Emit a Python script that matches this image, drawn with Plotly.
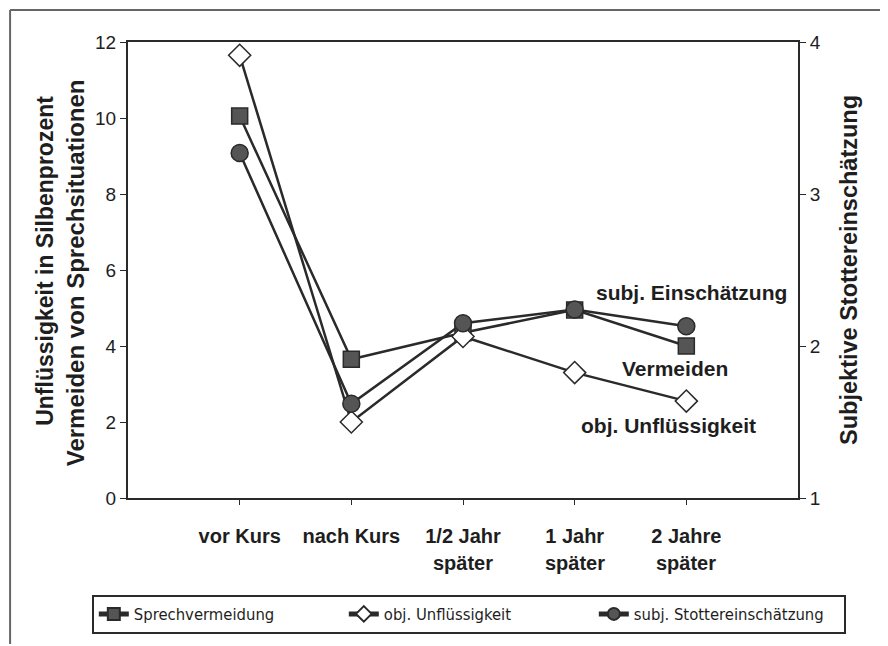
import plotly.graph_objects as go

# categories and values
zeitpunkte = ["vor Kurs", "nach Kurs", "1/2 Jahr", "1 Jahr", "2 Jahre"]
zweite_zeile = ["", "", "später", "später", "später"]
x_pos = [0, 1, 2, 3, 4]

sprechvermeidung = [10.05, 3.65, 4.35, 4.95, 4.0]        # left axis
obj_unfluessigkeit = [11.65, 2.0, 4.25, 3.3, 2.55]        # left axis
subj_stotterein = [3.27, 1.62, 2.15, 2.24, 2.13]          # right axis

FONT = "Liberation Sans, Arial, sans-serif"
INK = "#1e1e1e"
LINE = "#2a2a2a"
GRAU = "#555555"

fig = go.Figure()

fig.add_trace(go.Scatter(
    x=x_pos, y=sprechvermeidung, mode="lines+markers", name="Sprechvermeidung",
    legendrank=1,
    line=dict(color=LINE, width=2.5),
    marker=dict(symbol="square", size=16, color=GRAU, line=dict(color=LINE, width=1.5)),
))
fig.add_trace(go.Scatter(
    x=x_pos, y=obj_unfluessigkeit, mode="lines+markers", name="obj. Unflüssigkeit",
    legendrank=2,
    line=dict(color=LINE, width=2.5),
    marker=dict(symbol="diamond", size=17, color="white", line=dict(color=LINE, width=1.5)),
))
fig.add_trace(go.Scatter(
    x=x_pos, y=subj_stotterein, mode="lines+markers", name="subj. Stottereinschätzung",
    yaxis="y2", legendrank=3,
    line=dict(color=LINE, width=2.5),
    marker=dict(symbol="circle", size=17, color=GRAU, line=dict(color=LINE, width=1.5)),
))

# second line of the category labels
for xp, txt in zip(x_pos, zweite_zeile):
    if txt:
        fig.add_annotation(x=xp, y=-0.142, xref="x", yref="paper", text=txt,
                           showarrow=False, yanchor="middle",
                           font=dict(family=FONT, size=20, color=INK, weight="bold"))

# series labels inside the plot
labels = [("subj. Einschätzung", 4.05, 5.42), ("Vermeiden", 3.9, 3.41), ("obj. Unflüssigkeit", 3.84, 1.91)]
for txt, xp, yp in labels:
    fig.add_annotation(x=xp, y=yp, xref="x", yref="y", text=txt, showarrow=False,
                       font=dict(family=FONT, size=21, color=INK, weight="bold"))

# axis titles
fig.add_annotation(x=-0.124, y=0.52, xref="paper", yref="paper", textangle=-90,
                   xanchor="center", yanchor="middle",
                   text="Unflüssigkeit in Silbenprozent", showarrow=False,
                   font=dict(family=FONT, size=23, color=INK, weight="bold"))
fig.add_annotation(x=-0.079, y=0.493, xref="paper", yref="paper", textangle=-90,
                   xanchor="center", yanchor="middle",
                   text="Vermeiden von Sprechsituationen", showarrow=False,
                   font=dict(family=FONT, size=24, color=INK, weight="bold"))
fig.add_annotation(x=1.076, y=0.50, xref="paper", yref="paper", textangle=-90,
                   xanchor="center", yanchor="middle",
                   text="Subjektive Stottereinschätzung", showarrow=False,
                   font=dict(family=FONT, size=23.5, color=INK, weight="bold"))

# scan frame
frame = dict(color="#666666", width=2)
fig.add_shape(type="line", xref="paper", yref="paper", x0=-0.176, x1=1.13, y0=1.07, y1=1.07, line=frame)
fig.add_shape(type="line", xref="paper", yref="paper", x0=-0.176, x1=-0.176, y0=1.07, y1=-0.32, line=frame)
fig.add_shape(type="line", xref="paper", yref="paper", x0=1.13, x1=1.13, y0=1.07, y1=-0.32, line=frame)

# the page body adds an 8px offset, so the figure is 8px smaller
fig.update_layout(
    width=880, height=638,
    margin=dict(l=120, r=90, t=34, b=146),
    paper_bgcolor="white", plot_bgcolor="white",
    font=dict(family=FONT, size=18, color=INK),
    xaxis=dict(range=[-1, 5], tickvals=x_pos, ticktext=zeitpunkte,
               showgrid=False, zeroline=False, showline=True, linecolor=LINE, linewidth=2,
               mirror=True, ticks="outside", ticklen=5, tickcolor=LINE,
               ticklabelstandoff=14,
               tickfont=dict(family=FONT, size=20, color=INK, weight="bold")),
    yaxis=dict(range=[0, 12], tickvals=[0, 2, 4, 6, 8, 10, 12],
               showgrid=False, zeroline=False, showline=True, linecolor=LINE, linewidth=2,
               ticks="outside", ticklen=6, tickcolor=LINE,
               tickfont=dict(family=FONT, size=19, color=INK)),
    yaxis2=dict(range=[1, 4], tickvals=[1, 2, 3, 4], overlaying="y", side="right",
                showgrid=False, zeroline=False, showline=True, linecolor=LINE, linewidth=2,
                ticks="outside", ticklen=6, tickcolor=LINE,
                tickfont=dict(family=FONT, size=19, color=INK)),
    legend=dict(orientation="h", x=-0.054, y=-0.212, xanchor="left", yanchor="top",
                bordercolor=LINE, borderwidth=2, bgcolor="white",
                traceorder="normal", entrywidth=205, itemsizing="constant",
                font=dict(family="Liberation Sans Narrow, DejaVu Sans Condensed, sans-serif", size=16.5, color=INK)),
    showlegend=True,
)

fig.write_html("out.html")
